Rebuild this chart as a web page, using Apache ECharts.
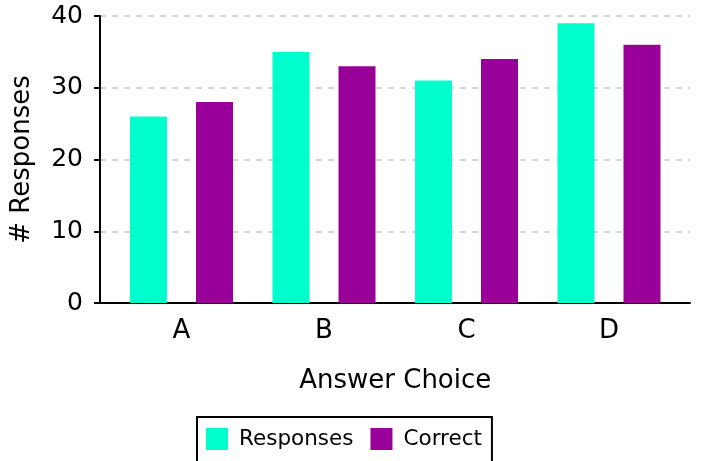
<!DOCTYPE html>
<html>
<head>
<meta charset="utf-8">
<script src="https://cdn.jsdelivr.net/npm/echarts@6/dist/echarts.min.js"></script>
<style>
  html, body { margin: 0; padding: 0; background: #fff; }
  #chart { width: 713px; height: 461px; }
</style>
</head>
<body>
<div id="chart"></div>
<script>
// answer choices and counts
const choices = ['A', 'B', 'C', 'D'];
const responses = [26, 35, 31, 39];
const correct = [28, 33, 34, 36];
const yTicks = [0, 10, 20, 30, 40];

const font = 'DejaVu Sans';
const chart = echarts.init(document.getElementById('chart'));

const option = {
  animation: false,
  textStyle: { fontFamily: font, color: '#000' },
  grid: [
    // grid 0: y axis and dashed grid lines
    { left: 100, right: 23, top: 16, bottom: 158 },
    // grid 1: the bars, slightly inset
    { left: 110.25, right: 32.75, top: 16, bottom: 158 },
    // grid 2: x axis baseline only
    { left: 95, right: 23, top: 16, bottom: 158 }
  ],
  legend: {
    data: ['Responses', 'Correct'],
    left: 197,
    top: 417,
    orient: 'horizontal',
    itemWidth: 22,
    itemHeight: 22,
    itemGap: 17,
    padding: [11, 10, 12, 9],
    borderColor: '#000',
    borderWidth: 2,
    icon: 'rect',
    textStyle: { fontFamily: font, fontSize: 21.5, color: '#000', padding: [0, 0, 0, 6] }
  },
  xAxis: [
    { gridIndex: 0, type: 'category', data: choices, show: false },
    {
      gridIndex: 1,
      type: 'category',
      data: choices,
      axisLine: { show: false },
      axisTick: { show: false },
      axisLabel: { fontFamily: font, fontSize: 26, color: '#000', margin: 15 },
      name: 'Answer Choice',
      nameLocation: 'middle',
      nameGap: 65,
      nameTextStyle: { fontFamily: font, fontSize: 26, color: '#000' }
    },
    {
      gridIndex: 2,
      type: 'category',
      data: choices,
      axisLine: { show: true, lineStyle: { color: '#000', width: 2 } },
      axisTick: { show: false },
      axisLabel: { show: false }
    }
  ],
  yAxis: [
    {
      gridIndex: 0,
      type: 'value',
      min: yTicks[0],
      max: yTicks[yTicks.length - 1],
      interval: 10,
      axisLine: { show: true, lineStyle: { color: '#000', width: 2 } },
      axisTick: { show: true, inside: false, length: 6, lineStyle: { color: '#000', width: 2 } },
      axisLabel: { fontFamily: font, fontSize: 25, color: '#000', margin: 17, padding: [3, 0, 0, 0] },
      splitLine: { show: true, lineStyle: { color: '#c8c8c8', type: [6, 6], width: 1.5 } },
      name: '# Responses',
      nameLocation: 'middle',
      nameGap: 65,
      nameTextStyle: { fontFamily: font, fontSize: 26, color: '#000' }
    },
    { gridIndex: 1, type: 'value', min: 0, max: 40, show: false },
    { gridIndex: 2, type: 'value', min: 0, max: 40, show: false }
  ],
  series: [
    {
      name: 'Responses',
      type: 'bar',
      xAxisIndex: 1,
      yAxisIndex: 1,
      data: responses,
      barWidth: 37,
      barGap: '78.4%',
      itemStyle: { color: '#00ffcc' }
    },
    {
      name: 'Correct',
      type: 'bar',
      xAxisIndex: 1,
      yAxisIndex: 1,
      data: correct,
      barWidth: 37,
      itemStyle: { color: '#990099' }
    }
  ]
};

chart.setOption(option);
</script>
</body>
</html>
